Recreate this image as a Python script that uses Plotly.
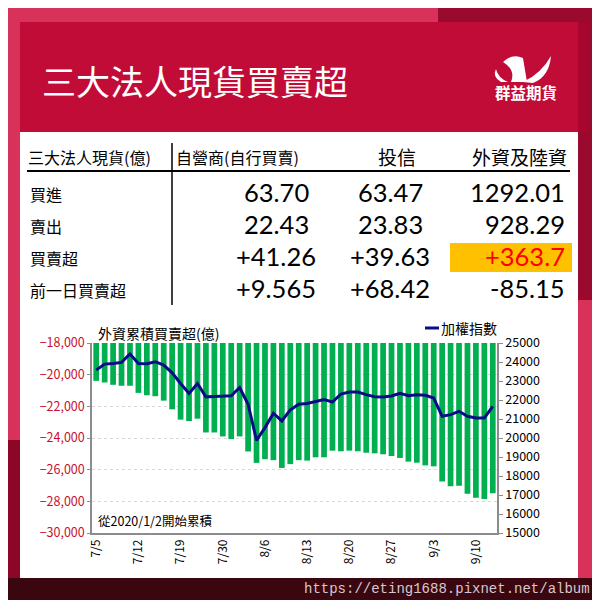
import plotly.graph_objects as go

# ---------------- data ----------------
dates = ["7/5", "7/8", "7/9", "7/10", "7/11", "7/12", "7/15", "7/16", "7/17", "7/18",
         "7/19", "7/22", "7/23", "7/26", "7/29", "7/30", "7/31", "8/1", "8/2", "8/5",
         "8/6", "8/7", "8/8", "8/9", "8/12", "8/13", "8/14", "8/15", "8/16", "8/19",
         "8/20", "8/21", "8/22", "8/23", "8/26", "8/27", "8/28", "8/29", "8/30", "9/2",
         "9/3", "9/4", "9/5", "9/6", "9/9", "9/10", "9/11", "9/12"]
foreign_cum = [-20390, -20495, -20640, -20700, -20700, -21150, -21300, -21360, -21640, -22190,
               -22840, -22930, -22780, -23650, -23650, -23900, -24070, -23900, -24850, -25570,
               -25340, -25400, -25890, -25650, -25400, -25430, -25220, -25220, -24800, -24840,
               -24800, -24840, -24930, -24970, -25030, -25140, -25260, -25490, -25560, -25730,
               -25790, -26740, -27050, -27010, -27520, -27770, -27850, -27490]
taiex = [23574, 23890, 23926, 23979, 24419, 23926, 23908, 24014, 23838, 23433,
         22870, 22342, 22870, 22165, 22183, 22200, 22218, 22658, 21778, 19877,
         20546, 21303, 20898, 21479, 21778, 21820, 21930, 22018, 21895, 22316,
         22421, 22421, 22281, 22175, 22158, 22211, 22351, 22228, 22281, 22246,
         22105, 21140, 21228, 21404, 21140, 21053, 21053, 21667]
tick_labels = ["7/5", "7/12", "7/19", "7/30", "8/6", "8/13", "8/20", "8/27", "9/3", "9/10"]

table_header = ["三大法人現貨(億)", "自營商(自行買賣)", "投信", "外資及陸資"]
row_labels = ["買進", "賣出", "買賣超", "前一日買賣超"]
dealer = ["63.70", "22.43", "+41.26", "+9.565"]
trust = ["63.47", "23.83", "+39.63", "+68.42"]
foreign = ["1292.01", "928.29", "+363.7", "-85.15"]

TOP = -18000
W = H = 600
OFF = 8  # page offset of the figure (default body margin)
CJK = "Noto Sans CJK TC"
NUM = "Lato"


def px(x):
    return (x - OFF) / W


def py(y):
    return 1 - (y - OFF) / H


def rect(x0, y0, x1, y1, color):
    return dict(type="rect", xref="paper", yref="paper", x0=px(x0), x1=px(x1),
                y0=py(y1), y1=py(y0), fillcolor=color, line=dict(width=0), layer="below")


def line(x0, y0, x1, y1, color, width):
    return dict(type="line", xref="paper", yref="paper", x0=px(x0), x1=px(x1),
                y0=py(y0), y1=py(y1), line=dict(color=color, width=width), layer="above")


def pth(points):
    s = ""
    for cmd, pts in points:
        s += cmd + " ".join(f"{px(a):.4f},{py(b):.4f}" for a, b in pts) + " "
    return s + "Z"


def white_path(points):
    return dict(type="path", xref="paper", yref="paper", fillcolor="#FFFFFF",
                line=dict(width=0), layer="above", path=pth(points))


fig = go.Figure()
fig.add_trace(go.Bar(x=dates, y=[v - TOP for v in foreign_cum], base=TOP,
                     marker=dict(color="#00B050", line=dict(width=0)),
                     name="外資累積買賣超", showlegend=False))
fig.add_trace(go.Scatter(x=dates, y=taiex, yaxis="y2", mode="lines",
                         line=dict(color="#0B0B88", width=3), name="加權指數",
                         showlegend=False))

shapes = [
    rect(438, -10, 610, 300, "#990A2E"),
    rect(-10, 440, 20, 578, "#8C0627"),
    rect(20, 22, 578, 132, "#C20C38"),
    rect(578, 22, 588, 132, "#A8062F"),
    rect(20, 132, 578, 578, "#FFFFFF"),
    rect(-10, 578, 610, 610, "#3A0711"),
    rect(450, 243, 572, 272, "#FFC000"),
    line(27, 171, 570, 171, "#000000", 2),
    line(172, 143, 172, 305, "#000000", 1.5),
    line(425, 328, 439, 328, "#0B0B88", 3),
]
# logo (stylised eagle)
shapes.append(white_path([("M", [(523, 82)]), ("Q", [(541, 74), (551, 56)]),
                          ("Q", [(549, 77), (533, 83)])]))
shapes.append(white_path([("M", [(503, 62)]), ("Q", [(512, 53), (523, 58)]),
                          ("L", [(527, 82)]), ("L", [(511, 82)]),
                          ("Q", [(516, 70), (503, 62)])]))
shapes.append(white_path([("M", [(496, 69)]), ("Q", [(498, 78), (508, 82)]),
                          ("L", [(501, 82)]), ("Q", [(492, 77), (496, 69)])]))

ann = []


def text(x, y, s, size, color="#000000", anchor="left", font=CJK):
    ann.append(dict(x=px(x), y=py(y), xref="paper", yref="paper", text=s, showarrow=False,
                    xanchor=anchor, yanchor="middle", borderpad=0,
                    font=dict(family=font, size=size, color=color)))


text(41, 80, "三大法人現貨買賣超", 34, "#FFFFFF")
text(526, 92, "<b>群益期貨</b>", 15.5, "#FFFFFF", "center")

text(27, 157, table_header[0], 16)
text(175, 157, table_header[1], 16)
text(397, 157, table_header[2], 19, anchor="center")
text(568, 157, table_header[3], 19, anchor="right")

row_y = [192, 224, 256, 288]
for i, ry in enumerate(row_y):
    text(29, ry + 2, row_labels[i], 16)
    text(276, ry, dealer[i], 25.5, anchor="center", font=NUM)
    text(390, ry, trust[i], 25.5, anchor="center", font=NUM)
    text(566, ry, foreign[i], 25.5, "#FF0000" if i == 2 else "#000000", anchor="right",
         font=NUM)

text(97, 333, "外資累積買賣超(億)", 14)
text(440, 328, "加權指數", 14)
text(97, 520, "從2020/1/2開始累積", 12.5)
text(591, 589, "https://eting1688.pixnet.net/album", 14, "#D8C8CC", "right",
     "Liberation Mono")

fig.update_layout(
    template="none",
    width=W, height=H, autosize=False, margin=dict(l=0, r=0, t=0, b=0, pad=0),
    paper_bgcolor="#D8325B", plot_bgcolor="rgba(0,0,0,0)",
    shapes=shapes, annotations=ann, bargap=0.32, showlegend=False,
    xaxis=dict(domain=[px(92), px(497)], type="category", tickmode="array",
               tickvals=tick_labels, ticktext=tick_labels, tickangle=-90,
               tickfont=dict(family=CJK, size=12, color="#000000"), automargin=False,
               showline=True, linecolor="#8C8C8C", linewidth=1.5, showgrid=False,
               ticks="", anchor="y"),
    yaxis=dict(domain=[py(533), py(343)], range=[-30000, -18000], dtick=2000,
               tickformat=",", tickfont=dict(family=CJK, size=12.5, color="#C8102E"),
               showline=True, linecolor="#8C8C8C", linewidth=1.5, ticks="outside",
               ticklen=3, tickcolor="#8C8C8C", showgrid=True, gridcolor="#D9D9D9",
               griddash="dot", gridwidth=1, zeroline=False, anchor="x", automargin=False),
    yaxis2=dict(overlaying="y", side="right", range=[15000, 25000], dtick=1000,
                tickformat="d", tickfont=dict(family=CJK, size=12.5, color="#000000"),
                showline=True, linecolor="#8C8C8C", linewidth=1.5, ticks="outside",
                ticklen=4, tickcolor="#8C8C8C", showgrid=False, zeroline=False,
                anchor="x", automargin=False),
)

fig.write_html("out.html")
